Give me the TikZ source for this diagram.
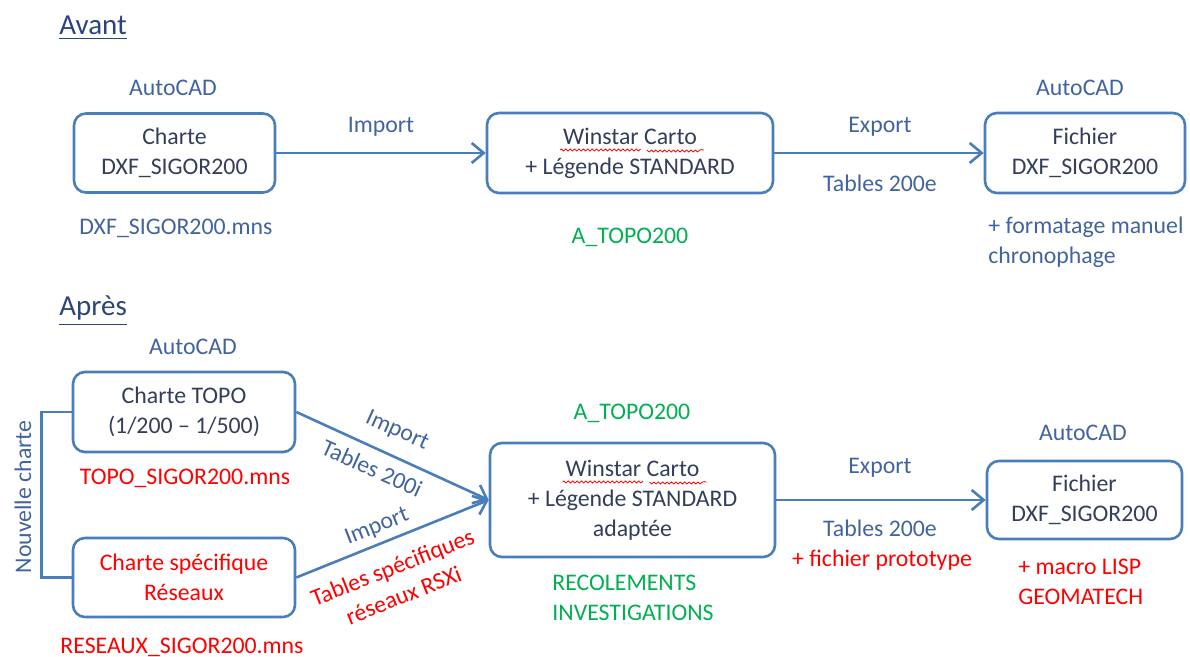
\documentclass[tikz,border=0pt]{standalone}
\usepackage{fontspec}
\setmainfont{Carlito}
\usepackage{tikz}
\usetikzlibrary{arrows.meta,positioning,decorations.pathmorphing}

\definecolor{boxblue}{RGB}{74,126,187}
\definecolor{labelblue}{RGB}{66,100,158}
\definecolor{boxtext}{RGB}{50,62,90}
\definecolor{headblue}{RGB}{42,70,120}
\definecolor{okgreen}{RGB}{0,176,80}
\definecolor{hotred}{RGB}{255,0,0}

\begin{document}
\begin{tikzpicture}[x=0.5pt, y=-0.5pt,
    every node/.style={font=\fontsize{11.9}{15}\selectfont, inner sep=0pt},
    heading/.style={font=\fontsize{14.5}{17}\selectfont, text=headblue},
    chartbox/.style={draw=boxblue, line width=1.3pt, rounded corners=6pt, align=center, text=boxtext},
    lbl/.style={text=labelblue},
    greentxt/.style={text=okgreen},
    alert/.style={text=hotred},
    link/.style={draw=boxblue, line width=1.3pt},
    flow/.style={link, -{Straight Barb[length=6pt,width=10pt]}},
    underl/.style={draw=headblue, line width=0.6pt},
    spell/.style={draw=hotred, line width=0.4pt, decorate, decoration={snake, amplitude=0.5pt, segment length=2.2pt}}]
    \useasboundingbox (0,0) rectangle (1190,657);

    % Avant
    \node[heading, anchor=west] (avant) at (59,25) {Avant};
    \draw[underl] ([yshift=-2pt]avant.south west) -- ([yshift=-2pt]avant.south east);
    \node[lbl] (cad1) at (173,88) {AutoCAD};
    \node[chartbox, minimum width=100.5pt, minimum height=39.5pt] (charte) at (174.5,153) {Charte\\DXF\_SIGOR200};
    \node[lbl] (mns1) at (176,228) {DXF\_SIGOR200.mns};
    \node[chartbox, minimum width=143pt, minimum height=40pt] (winstar) at (630,153) {Winstar Carto\\+ Légende STANDARD};
    \draw[spell, shift={(winstar.center)}] (-70,-3) -- (9,-3) (17,-3) -- (74,-3);
    \node[greentxt] (topo1) at (630,237) {A\_TOPO200};
    \node[lbl] (cad2) at (1080,88) {AutoCAD};
    \node[chartbox, minimum width=100pt, minimum height=40pt] (fichier) at (1085,153) {Fichier\\DXF\_SIGOR200};
    \node[lbl, align=left, anchor=west] (manuel) at (988,242) {+ formatage manuel\\chronophage};
    \draw[flow] (charte) -- (winstar);
    \draw[flow] (winstar) -- (fichier);
    \node[lbl] (imp1) at (381,127) {Import};
    \node[lbl] (exp1) at (880,127) {Export};
    \node[lbl] (tab1) at (880,183) {Tables 200e};

    % Apres
    \node[heading, anchor=west] (apres) at (59,308) {Après};
    \draw[underl] ([yshift=-2pt]apres.south west) -- ([yshift=-2pt]apres.south east);
    \node[lbl] (cad3) at (193,347) {AutoCAD};
    \node[chartbox, minimum width=111pt, minimum height=40pt] (topo) at (184,412) {Charte TOPO\\(1/200 – 1/500)};
    \node[alert] (mns2) at (185,478) {TOPO\_SIGOR200.mns};
    \node[chartbox, text=hotred, minimum width=111pt, minimum height=39.5pt] (reseau) at (184,577.5) {Charte spécifique\\Réseaux};
    \node[alert] (mns3) at (182,647) {RESEAUX\_SIGOR200.mns};
    \node[lbl, rotate=90] (nouv) at (23,497) {Nouvelle charte};
    \draw[link] (topo.west) -- ++(-30,0) |- (reseau.west);

    \node[greentxt] (topo2) at (632,413) {A\_TOPO200};
    \node[chartbox, minimum width=142.5pt, minimum height=57pt] (winstar2) at (632.5,500) {Winstar Carto\\+ Légende STANDARD\\adaptée};
    \draw[spell, shift={(winstar2.center)}] (-70,-18) -- (9,-18) (17,-18) -- (74,-18);
    \node[greentxt, align=left, anchor=west] (recol) at (552,598) {RECOLEMENTS\\INVESTIGATIONS};
    \draw[flow] (topo.east) -- (winstar2.west);
    \draw[flow] (reseau.east) -- (winstar2.west);
    \node[lbl, rotate=-24.3] (imp2) at (397,431) {Import};
    \node[lbl, rotate=-24.3] (tab2) at (372,468) {Tables 200i};
    \node[lbl, rotate=21.7] (imp3) at (377,527) {Import};
    \node[alert, rotate=21.7, align=center] (tab3) at (398,581) {Tables spécifiques\\réseaux RSXi};

    \node[lbl] (cad4) at (1083,433) {AutoCAD};
    \node[chartbox, minimum width=97.5pt, minimum height=39pt] (fichier2) at (1084.5,500) {Fichier\\DXF\_SIGOR200};
    \draw[flow] (winstar2) -- (fichier2);
    \node[lbl] (exp2) at (880,468) {Export};
    \node[lbl] (tab4) at (880,528) {Tables 200e};
    \node[alert] (proto) at (882,560) {+ fichier prototype};
    \node[alert, align=left, anchor=west] (lisp) at (1018,582) {+ macro LISP\\GEOMATECH};
\end{tikzpicture}
\end{document}
